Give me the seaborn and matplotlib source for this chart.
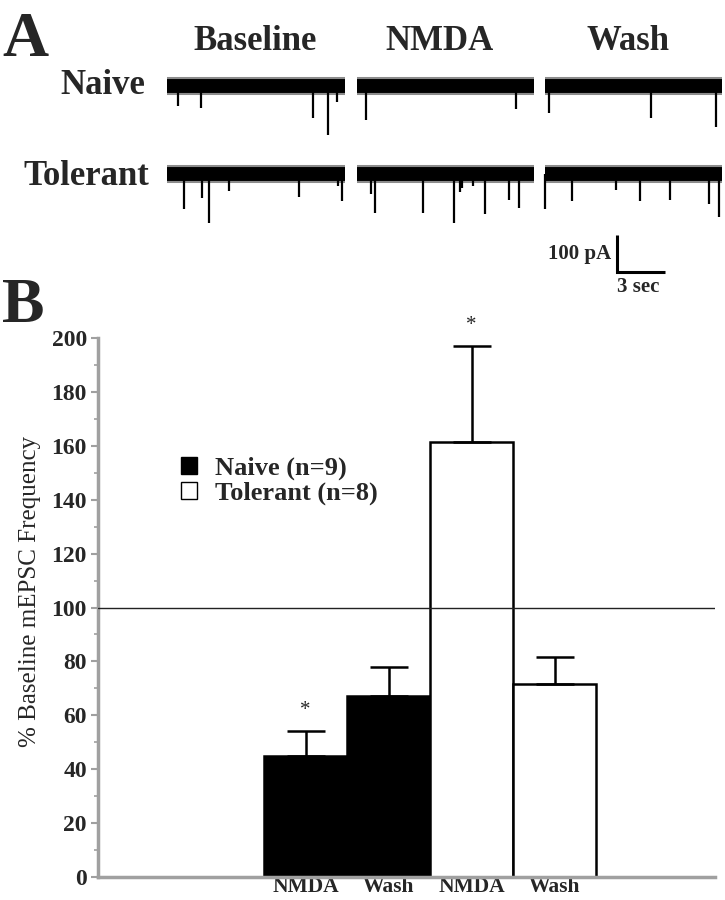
import numpy as np
import pandas as pd
import matplotlib
matplotlib.use("Agg")
import matplotlib.pyplot as plt
from matplotlib.patches import Patch
from matplotlib.ticker import MultipleLocator
import seaborn as sns

# ---- panel B: % of baseline mEPSC frequency ----
bar_keys = ["Naive NMDA", "Naive Wash", "Tolerant NMDA", "Tolerant Wash"]
bar_labels = ["NMDA", "Wash", "NMDA", "Wash"]
groups = ["Naive", "Naive", "Tolerant", "Tolerant"]
mean_pct = [45, 67, 161.5, 71.5]
sem_pct = [9, 11, 35.5, 10]
signif = [True, False, True, False]
legend_labels = ["Naive (n=9)", "Tolerant (n=8)"]

# ---- panel A: example traces ----
conditions = ["Baseline", "NMDA", "Wash"]
rows = ["Naive", "Tolerant"]
# event times (s from start of each 11 s sweep) and amplitudes (pA)
naive_times = [[0.68, 2.11, 9.11, 10.05, 10.61],
               [0.56, 9.93],
               [0.28, 6.64, 10.68]]
naive_amps = [[54, 60, 86, 132, 43],
              [92, 62],
              [73, 87, 111]]
tol_times = [[1.05, 2.16, 2.63, 3.88, 8.24, 10.69, 10.94],
             [0.89, 1.14, 4.16, 6.09, 6.45, 6.59, 7.24, 8.01, 9.53, 10.14],
             [0.01, 1.72, 4.43, 5.95, 7.83, 10.26, 10.91]]
tol_amps = [[95, 65, 132, 45, 62, 32, 72],
            [53, 105, 105, 132, 50, 38, 32, 107, 70, 92],
            [95, 73, 43, 73, 70, 81, 116]]
sweep_len = 11.1

sns.set_style("white")
plt.rcParams["font.family"] = ["Liberation Serif", "DejaVu Serif"]

W, H = 725, 900
fig = plt.figure(figsize=(7.25, 9), dpi=100)


def fx(px):
    return px / W


def fy(py):
    return 1 - py / H


# ---------------- panel A ----------------
ax_a = fig.add_axes([fx(160), fy(300), (725 - 160) / W, (300 - 60) / H])
px_per_s = 16.0
px_per_pa = 0.37
ax_a.set_xlim(0, 565 / px_per_s)
ax_a.set_ylim(70 - 240 / px_per_pa, 70)
ax_a.axis("off")

seg_start = [0.45, 12.3, 24.05]
row_offset = [0, -238]
all_times = [naive_times, tol_times]
all_amps = [naive_amps, tol_amps]
for r in range(2):
    off = row_offset[r]
    for c in range(3):
        s = seg_start[c]
        ax_a.plot([s, s + sweep_len], [off, off], color="black", lw=13,
                  alpha=0.45, solid_capstyle="butt")
        ax_a.plot([s, s + sweep_len], [off, off], color="black", lw=10,
                  solid_capstyle="butt")
        t = s + np.array(all_times[r][c])
        a = np.array(all_amps[r][c])
        ax_a.vlines(t, off, off - a, color="black", lw=1.6)

# scale bar: 100 pA, 3 sec
sb_x, sb_y = 28.56, -503
ax_a.plot([sb_x, sb_x, sb_x + 3], [sb_y + 100, sb_y, sb_y], color="black",
          lw=2.2, solid_joinstyle="miter", solid_capstyle="butt")
ax_a.text(sb_x - 0.35, sb_y + 50, "100 pA", ha="right", va="center",
          fontsize=15, fontweight="bold")
ax_a.text(sb_x, sb_y - 40, "3 sec", ha="left", va="center",
          fontsize=15, fontweight="bold")

fig.text(fx(2), fy(56), "A", fontsize=46, fontweight="bold", va="baseline")
fig.text(fx(2), fy(322), "B", fontsize=46, fontweight="bold", va="baseline")
for name, cx in zip(conditions, [255, 440, 628]):
    fig.text(fx(cx), fy(50), name, ha="center", va="baseline",
             fontsize=25, fontweight="bold")
fig.text(fx(145), fy(94), rows[0], ha="right", va="baseline",
         fontsize=25, fontweight="bold")
fig.text(fx(149), fy(185), rows[1], ha="right", va="baseline",
         fontsize=25, fontweight="bold")

# ---------------- panel B ----------------
ax = fig.add_axes([fx(98), fy(877), (715 - 98) / W, (877 - 338) / H])
df = pd.DataFrame({"key": bar_keys, "group": groups, "value": mean_pct})
sns.barplot(data=df, x="key", y="value", hue="group",
            palette={"Naive": "black", "Tolerant": "white"},
            dodge=False, width=1, edgecolor="black", linewidth=1.8,
            errorbar=None, legend=False, ax=ax)
ax.errorbar(np.arange(len(bar_keys)), mean_pct,
            yerr=[np.zeros(len(sem_pct)), sem_pct], fmt="none",
            ecolor="black", elinewidth=1.8, capsize=14, capthick=1.8, zorder=3)
ax.axhline(100, color="#222222", lw=1, zorder=4)

for i, sig in enumerate(signif):
    if sig:
        ax.text(i, mean_pct[i] + sem_pct[i] + 6, "*", ha="center",
                va="baseline", fontsize=15, clip_on=False)

ax.set_xlim(-2.5, 4.93)
ax.set_ylim(0, 200)
ax.yaxis.set_major_locator(MultipleLocator(20))
ax.yaxis.set_minor_locator(MultipleLocator(10))
ax.tick_params(axis="y", which="major", left=True, length=5, width=1.5,
               color="#a0a0a0", labelsize=17, pad=3)
ax.tick_params(axis="y", which="minor", left=True, length=3, width=1.2,
               color="#a0a0a0")
for t in ax.get_yticklabels():
    t.set_fontweight("bold")
ax.set_xticks(range(len(bar_labels)))
ax.set_xticklabels(bar_labels, fontsize=15.5, fontweight="bold")
ax.tick_params(axis="x", length=0, pad=0)
ax.set_xlabel("")
ax.set_ylabel("% Baseline mEPSC Frequency", fontsize=18)
ax.yaxis.set_label_coords(-0.092, 0.53)

sns.despine(ax=ax)
for side in ["left", "bottom"]:
    ax.spines[side].set_color("#a0a0a0")
    ax.spines[side].set_linewidth(2.5)

handles = [Patch(facecolor="black", edgecolor="black", lw=1),
           Patch(facecolor="white", edgecolor="black", lw=1)]
ax.legend(handles=handles, labels=legend_labels, loc="upper left",
          bbox_to_anchor=(fx(181), fy(457)), bbox_transform=fig.transFigure,
          frameon=False, prop={"weight": "bold", "size": 19},
          handlelength=0.6, handleheight=0.6, handletextpad=0.7,
          labelspacing=0.05, borderpad=0, borderaxespad=0)

fig.savefig("out.png", dpi=100)
